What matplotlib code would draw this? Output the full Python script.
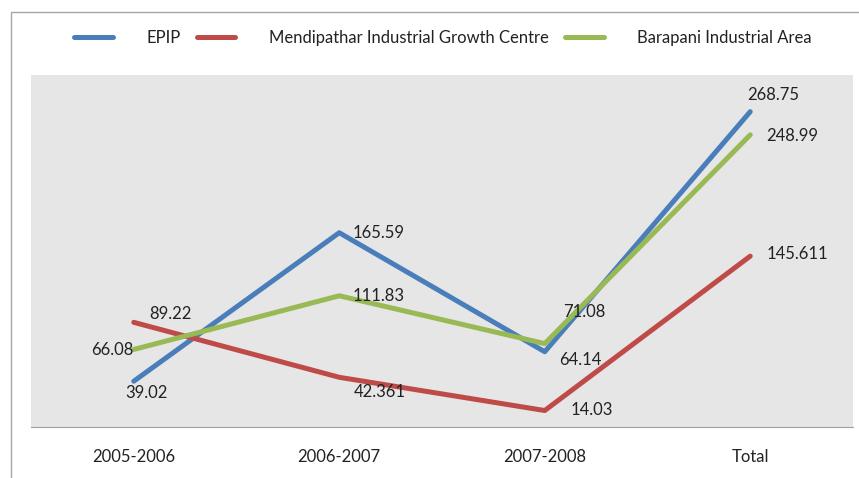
import matplotlib.pyplot as plt
from matplotlib.patches import Rectangle

plt.rcParams['font.family'] = ['Lato', 'DejaVu Sans']

# data
periods = ['2005-2006', '2006-2007', '2007-2008', 'Total']
epip = [39.02, 165.59, 64.14, 268.75]
mendipathar = [89.22, 42.361, 14.03, 145.611]
barapani = [66.08, 111.83, 71.08, 248.99]

epip_lbl = ['39.02', '165.59', '64.14', '268.75']
mend_lbl = ['89.22', '42.361', '14.03', '145.611']
bara_lbl = ['66.08', '111.83', '71.08', '248.99']

blue = '#4a7ebb'
red = '#be4b48'
green = '#98b954'

fig = plt.figure(figsize=(8.59, 4.78), dpi=100)
W, H = 859, 478
ax = fig.add_axes([31 / W, 1 - 427 / H, (853 - 31) / W, (427 - 75) / H])
ax.set_facecolor('#e6e6e6')

x = range(len(periods))
ax.plot(x, epip, color=blue, lw=3.6, solid_capstyle='round', label='EPIP')
ax.plot(x, mendipathar, color=red, lw=3.6, solid_capstyle='round',
        label='Mendipathar Industrial Growth Centre')
ax.plot(x, barapani, color=green, lw=3.6, solid_capstyle='round',
        label='Barapani Industrial Area')

ax.set_xlim(-0.5, 3.5)
ax.set_ylim(0, 300)
ax.set_yticks([])
ax.set_xticks(list(x))
ax.set_xticklabels(periods, fontsize=12, color='#222222')
ax.tick_params(axis='x', length=0, pad=16)
for s in ['top', 'left', 'right']:
    ax.spines[s].set_visible(False)
ax.spines['bottom'].set_color('#a0a0a0')

# label offsets in pixels (dx, dy, ha)
epip_off = [(13, -12, 'center'), (13, 0, 'left'), (14, -8, 'left'), (23, 17, 'center')]
mend_off = [(37, 8, 'center'), (15, -15, 'left'), (26, 1, 'left'), (16, 2, 'left')]
bara_off = [(-21, -1, 'center'), (13, 0, 'left'), (18, 32, 'left'), (16, -1, 'left')]

for vals, lbls, offs in [(epip, epip_lbl, epip_off),
                         (mendipathar, mend_lbl, mend_off),
                         (barapani, bara_lbl, bara_off)]:
    for i, (v, t, (dx, dy, ha)) in enumerate(zip(vals, lbls, offs)):
        ax.annotate(t, (i, v), xytext=(dx, dy), textcoords='offset pixels',
                    ha=ha, va='center', fontsize=12, color='#222222')

fig.legend(loc='center', bbox_to_anchor=(443 / W, 1 - 38 / H), ncol=3,
           frameon=False, fontsize=12, handlelength=2.3, handletextpad=2.0,
           columnspacing=1.0, labelcolor='#222222')

# outer chart border
fig.patches.append(Rectangle((11 / W, -0.1), 1.1, 1 - 12 / H + 0.1,
                             transform=fig.transFigure, fill=False,
                             edgecolor='#a6a6a6', lw=1))

fig.savefig('out.png', dpi=100)
